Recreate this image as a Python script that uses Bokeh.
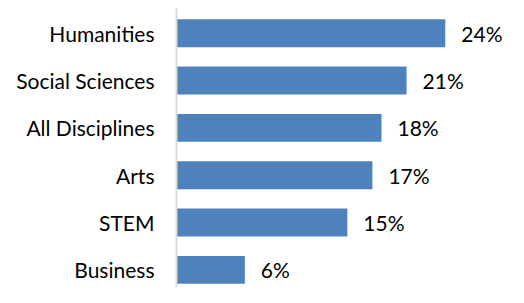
from bokeh.plotting import figure
from bokeh.models import ColumnDataSource, Range1d, FixedTicker
from bokeh.core.properties import value
from bokeh.embed import file_html
from bokeh.resources import INLINE

categories = ["Humanities", "Social Sciences", "All Disciplines", "Arts", "STEM", "Business"]
shares = [23.6, 20.2, 18.0, 17.2, 15.0, 6.0]
labels = ["24%", "21%", "18%", "17%", "15%", "6%"]

n = len(categories)
ypos = [n - 1 - i for i in range(n)]

src = ColumnDataSource(dict(y=ypos, v=shares, lab=labels, cat=categories))

p = figure(width=508, height=287, output_backend="svg", toolbar_location=None,
           x_range=Range1d(0, 29.15), y_range=Range1d(-0.372, n - 1 + 0.522),
           min_border_left=176, min_border_right=0, min_border_top=8, min_border_bottom=0)
p.outline_line_color = None
p.xgrid.visible = False
p.ygrid.visible = False
p.xaxis.visible = False
p.background_fill_color = "white"
p.border_fill_color = "white"

p.hbar(y="y", right="v", left=0, height=0.59, source=src,
       fill_color="#4F81BD", line_color=None)

p.text(x="v", y="y", text="lab", source=src, x_offset=16,
       text_align="left", text_baseline="middle",
       text_font=value("Lato"), text_font_size="21px", text_color="#000000")

ax = p.yaxis[0]
ax.ticker = FixedTicker(ticks=ypos)
ax.major_label_overrides = {y: c for y, c in zip(ypos, categories)}
ax.major_tick_line_color = None
ax.minor_tick_line_color = None
ax.major_tick_out = 0
ax.major_tick_in = 0
ax.major_label_standoff = 22
ax.axis_line_color = "#D9D9D9"
ax.axis_line_width = 2
ax.major_label_text_font = "Lato"
ax.major_label_text_font_size = "21px"
ax.major_label_text_color = "#000000"

open("out.html", "w").write(file_html(p, INLINE))
